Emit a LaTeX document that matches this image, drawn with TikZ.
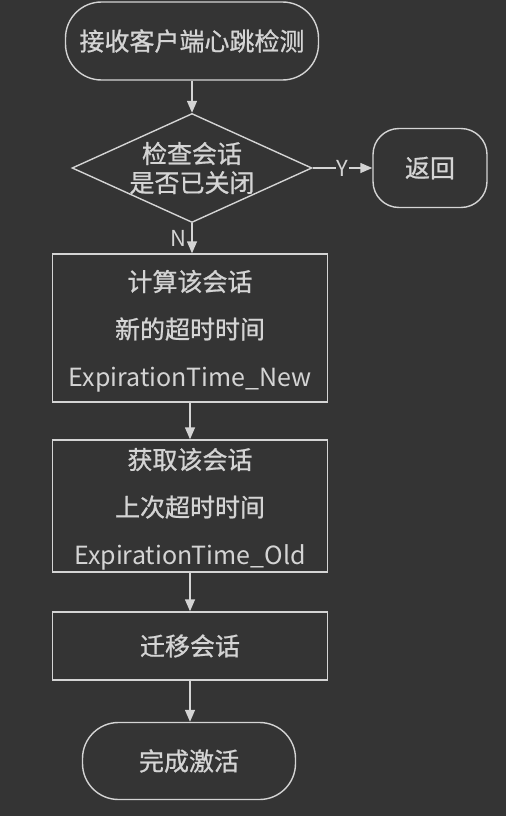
\documentclass[tikz,border=0pt]{standalone}
\usepackage{fontspec}
\setmainfont{Noto Sans CJK SC}
\newfontfamily\hz{Noto Sans CJK SC}[FakeBold=0.8]
\usetikzlibrary{shapes.geometric,arrows.meta}
\definecolor{bg}{HTML}{343434}
\definecolor{fg}{HTML}{D4D4D4}
\tikzset{
  base/.style={draw=fg, line width=1.4pt, text=fg, inner sep=0pt, align=center,
    font=\fontsize{25}{29}\selectfont},
  term/.style={base, rectangle, rounded corners=36pt},
  dec/.style={base, diamond, aspect=2.2, minimum width=225pt, minimum height=103pt},
  proc/.style={base, rectangle, minimum width=275pt},
  multi/.style={font=\fontsize{25}{47.5}\selectfont, text depth=0pt},
  conn/.style={draw=fg, line width=1.4pt, -{Triangle[length=12pt,width=10pt]}},
  lbl/.style={text=fg, font=\fontsize{22}{26}\selectfont, inner sep=1pt}
}
\begin{document}
\begin{tikzpicture}[x=1pt,y=-1pt]
\fill[bg] (0,0) rectangle (506,816);
\useasboundingbox (0,0) rectangle (506,816);
\node[term, minimum width=253pt, minimum height=78pt] (start) at (192,41) {\hz 接收客户端心跳检测};
\node[dec] (chk) at (192,168) {\hz 检查会话\\\hz 是否已关闭};
\node[term, rounded corners=26pt, minimum width=114pt, minimum height=79pt] (ret) at (430,168) {\hz 返回};
\node[proc, multi, minimum height=148pt] (b1) at (190,328) {\hz 计算该会话\\\hz 新的超时时间\\ExpirationTime\_New};
\node[proc, multi, minimum height=132pt] (b2) at (190,506) {\hz 获取该会话\\\hz 上次超时时间\\ExpirationTime\_Old};
\node[proc, minimum height=68pt] (b3) at (190,646) {\hz 迁移会话};
\node[term, minimum width=213pt, minimum height=77pt] (fin) at (189,761) {\hz 完成激活};
\draw[conn] (start.south) -- (start.south |- chk.north);
\draw[conn] (chk.south) -- (chk.south |- b1.north);
\node[lbl] (nlab) at (178,238) {N};
\draw[conn] (chk.east) -- node[lbl, fill=bg] (ylab) {Y} (ret.west);
\draw[conn] (b1.south) -- (b1.south |- b2.north);
\draw[conn] (b2.south) -- (b2.south |- b3.north);
\draw[conn] (b3.south) -- (b3.south |- fin.north);
\end{tikzpicture}
\end{document}
